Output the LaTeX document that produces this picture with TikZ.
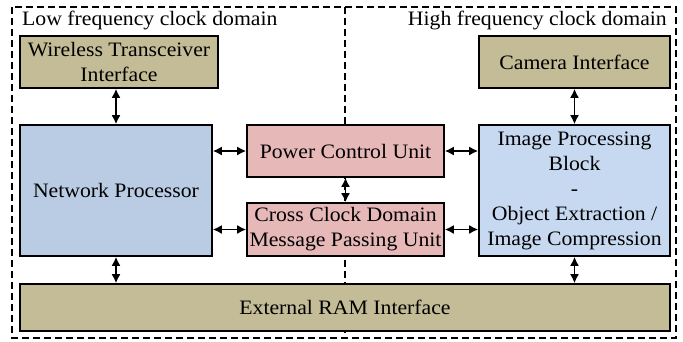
\documentclass[tikz,border=0pt]{standalone}
\usepackage{fontspec}
\setmainfont{Liberation Serif}[FakeStretch=1.06]
\usetikzlibrary{arrows.meta}
\definecolor{ifacetan}{RGB}{195,188,150}
\definecolor{unitpink}{RGB}{230,184,183}
\definecolor{procblue}{RGB}{185,204,228}
\definecolor{imgblue}{RGB}{198,217,240}
\tikzset{
    blk/.style={draw=black,line width=1.6pt,align=center,inner sep=0pt,
        font=\fontsize{20.5}{25}\selectfont},
    link/.style={line width=1.6pt,{Latex[length=9pt,width=9pt]}-{Latex[length=9pt,width=9pt]}},
    clkdom/.style={line width=1.5pt,dash pattern=on 7pt off 4pt}
}
\begin{document}
\begin{tikzpicture}[x=1pt,y=-1pt]
    \useasboundingbox (0,0) rectangle (683,341);
    % clock domains
    \draw[clkdom] (12,7) rectangle (676,338);
    \draw[clkdom] (345,7)--(345,338);
    \node[anchor=base west,inner sep=0pt,font=\fontsize{20.5}{25}\selectfont] (lowlbl) at (22,25) {Low frequency clock domain};
    \node[anchor=base east,inner sep=0pt,font=\fontsize{20.5}{25}\selectfont] (highlbl) at (667,25) {High frequency clock domain};
    % blocks
    \node[blk,fill=ifacetan,minimum width=198,minimum height=52] (wti) at (119,62) {Wireless Transceiver\\Interface};
    \node[blk,fill=ifacetan,minimum width=191,minimum height=52] (cam) at (574.5,62) {Camera Interface};
    \node[blk,fill=procblue,minimum width=192,minimum height=131] (np) at (116,190.5) {Network Processor};
    \node[blk,fill=unitpink,minimum width=197,minimum height=52] (pcu) at (345.5,151) {Power Control Unit};
    \node[blk,fill=unitpink,minimum width=197,minimum height=53] (ccd) at (345.5,229.5) {Cross Clock Domain\\Message Passing Unit};
    \node[blk,fill=imgblue,minimum width=191,minimum height=131] (ipb) at (574.5,190.5) {Image Processing\\Block\\-\\Object Extraction /\\Image Compression};
    \node[blk,fill=ifacetan,minimum width=650,minimum height=47] (ram) at (345,307.5) {External RAM Interface};
    % links
    \draw[link] (np.north)--(np.north |- wti.south);
    \draw[link] (cam.south)--(ipb.north);
    \draw[link] (np.east |- pcu.west)--(pcu.west);
    \draw[link] (np.east |- ccd.west)--(ccd.west);
    \draw[link] (pcu.east)--(pcu.east -| ipb.west);
    \draw[link] (ccd.east)--(ccd.east -| ipb.west);
    \draw[link] (pcu.south)--(ccd.north);
    \draw[link] (np.south)--(np.south |- ram.north);
    \draw[link] (ipb.south)--(ipb.south |- ram.north);
\end{tikzpicture}
\end{document}
